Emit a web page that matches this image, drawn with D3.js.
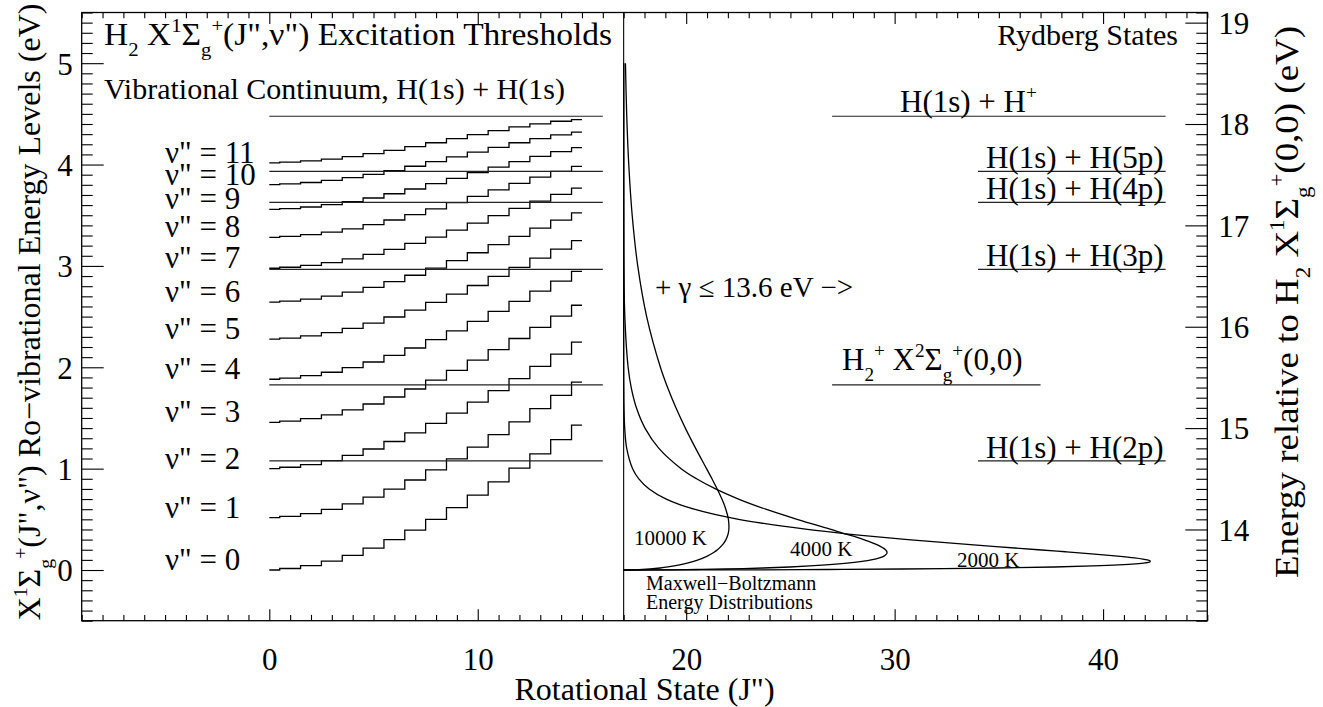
<!DOCTYPE html>
<html>
<head>
<meta charset="utf-8">
<script src="https://cdn.jsdelivr.net/npm/d3@7"></script>
<style>
  body { margin: 0; background: #fff; }
  svg { display: block; font-family: "Liberation Serif", "Times New Roman", Times, serif; }
  svg text { font-family: "Liberation Serif", "Times New Roman", Times, serif !important; fill: #000; }
</style>
</head>
<body>
<svg id="chart" width="1323" height="707"></svg>
<script>
// ---------------------------------------------------------------
// H2 X(J'',v'') ro-vibrational levels (eV above v=0, J=0), J'' = 0..15
// ---------------------------------------------------------------
const rotJ = [0, 1, 2, 3, 4, 5, 6, 7, 8, 9, 10, 11, 12, 13, 14, 15];
const vibV = [0, 1, 2, 3, 4, 5, 6, 7, 8, 9, 10, 11];

const levels_v0  = [0.000, 0.015, 0.044, 0.087, 0.145, 0.215, 0.299, 0.394, 0.499, 0.615, 0.738, 0.869, 1.005, 1.145, 1.287, 1.429];
const levels_v1  = [0.516, 0.530, 0.557, 0.598, 0.653, 0.720, 0.798, 0.888, 0.988, 1.096, 1.212, 1.335, 1.462, 1.592, 1.723, 1.853];
const levels_v2  = [1.001, 1.014, 1.040, 1.079, 1.131, 1.194, 1.268, 1.352, 1.446, 1.547, 1.656, 1.770, 1.888, 2.008, 2.129, 2.248];
const levels_v3  = [1.457, 1.469, 1.494, 1.530, 1.579, 1.638, 1.707, 1.786, 1.874, 1.969, 2.070, 2.175, 2.284, 2.394, 2.504, 2.612];
const levels_v4  = [1.882, 1.894, 1.917, 1.951, 1.996, 2.052, 2.117, 2.190, 2.272, 2.360, 2.453, 2.551, 2.650, 2.751, 2.850, 2.946];
const levels_v5  = [2.277, 2.288, 2.310, 2.342, 2.384, 2.436, 2.496, 2.564, 2.640, 2.721, 2.807, 2.896, 2.986, 3.077, 3.166, 3.250];
const levels_v6  = [2.642, 2.652, 2.673, 2.702, 2.741, 2.789, 2.845, 2.908, 2.978, 3.052, 3.130, 3.211, 3.292, 3.373, 3.451, 3.524];
const levels_v7  = [2.977, 2.987, 3.005, 3.033, 3.069, 3.113, 3.164, 3.222, 3.285, 3.353, 3.423, 3.496, 3.568, 3.639, 3.706, 3.768];
const levels_v8  = [3.282, 3.291, 3.308, 3.333, 3.366, 3.407, 3.453, 3.506, 3.563, 3.624, 3.687, 3.751, 3.814, 3.875, 3.932, 3.982];
const levels_v9  = [3.557, 3.565, 3.581, 3.604, 3.634, 3.670, 3.712, 3.759, 3.811, 3.864, 3.920, 3.975, 4.029, 4.081, 4.127, 4.166];
const levels_v10 = [3.802, 3.809, 3.823, 3.844, 3.871, 3.904, 3.941, 3.983, 4.028, 4.075, 4.123, 4.170, 4.215, 4.256, 4.292, 4.320];
const levels_v11 = [4.017, 4.023, 4.036, 4.054, 4.078, 4.107, 4.140, 4.177, 4.215, 4.256, 4.296, 4.335, 4.371, 4.402, 4.427, 4.443];
const rovibLevels = [levels_v0, levels_v1, levels_v2, levels_v3, levels_v4, levels_v5,
                     levels_v6, levels_v7, levels_v8, levels_v9, levels_v10, levels_v11];

// Dissociation / Rydberg / ionisation thresholds (eV above H2 X(0,0))
const thresholdKeys   = ["H2p", "ion", "H3p", "H4p", "H5p", "Hplus"];
const thresholdEnergy = [14.677, 15.426, 16.566, 17.227, 17.533, 18.076];
const thresholdJFrom  = [34, 27, 34, 34, 34, 27];
const thresholdJTo    = [43, 37, 43, 43, 43, 43];
// the same thresholds reduced by a 13.6 eV photon, drawn over J'' = 0..16
const reducedJFrom = 0, reducedJTo = 16;

// Maxwell-Boltzmann energy distributions (energy above 13.6 eV, width in J units)
const mbEnergy = [0, 0.002, 0.005, 0.01, 0.02, 0.03, 0.04, 0.05, 0.06, 0.07, 0.08, 0.09, 0.1,
                  0.12, 0.14, 0.16, 0.18, 0.2, 0.25, 0.3, 0.35, 0.4, 0.5, 0.6, 0.7, 0.8, 0.9, 1.0,
                  1.2, 1.4, 1.6, 1.8, 2.0, 2.5, 3.0, 3.5, 4.0, 4.5, 5.0];
const mb2000  = [0, 6.274, 9.750, 13.394, 17.874, 20.657, 22.508, 23.746, 24.546, 25.019, 25.238, 25.260, 25.126,
                 24.508, 23.571, 22.438, 21.192, 19.890, 16.638, 13.637, 11.020, 8.814, 5.516, 3.383, 2.045, 1.224, 0.727, 0.429,
                 0.147, 0.050, 0.017, 0.006, 0.002, 0, 0, 0, 0, 0, 0];
const mb4000  = [0, 2.231, 3.497, 4.875, 6.697, 7.967, 8.937, 9.706, 10.328, 10.837, 11.254, 11.595, 11.873,
                 12.273, 12.509, 12.619, 12.630, 12.562, 12.149, 11.511, 10.755, 9.945, 8.319, 6.818, 5.510, 4.407, 3.497, 2.758,
                 1.691, 1.023, 0.612, 0.363, 0.214, 0.056, 0.014, 0.004, 0.001, 0, 0];
const mb10000 = [0, 0.566, 0.892, 1.255, 1.754, 2.124, 2.424, 2.679, 2.900, 3.097, 3.272, 3.431, 3.575,
                 3.826, 4.038, 4.218, 4.371, 4.501, 4.749, 4.909, 5.004, 5.047, 5.025, 4.901, 4.714, 4.487, 4.238, 3.978,
                 3.455, 2.959, 2.508, 2.109, 1.763, 1.103, 0.676, 0.409, 0.245, 0.145, 0.086];
const mbSeries = [mb2000, mb4000, mb10000];
const dividerJ = 17;

// axis ticks
const xMajorTicks = [0, 10, 20, 30, 40];
const yMajorTicks = [0, 1, 2, 3, 4, 5];
const yRightMajorTicks = [14, 15, 16, 17, 18, 19];

// ---------------------------------------------------------------
const SERIF = "Liberation Serif, Times New Roman, Times, serif";
const svg = d3.select("#chart");
const frame = { left: 81.7, right: 1207.3, top: 12.5, bottom: 620.7 };

const x  = d3.scaleLinear().domain([-9, 45]).range([frame.left, frame.right]);
const y  = d3.scaleLinear().domain([-0.5, 5.5]).range([frame.bottom, frame.top]);
const yR = d3.scaleLinear().domain([13.1, 19.1]).range([frame.bottom, frame.top]);

const FS = 31;

function label(g, x0, y0, str, size, anchor) {
  return g.append("text")
    .attr("x", x0).attr("y", y0)
    .attr("font-family", SERIF)
    .attr("font-size", size)
    .attr("text-anchor", anchor || "start")
    .text(str);
}

// text with sub/superscripts: parts = [[string, mode], ...]
function richText(g, x0, y0, parts, size, anchor, length) {
  const t = g.append("text")
    .attr("x", x0).attr("y", y0)
    .attr("font-family", SERIF)
    .attr("font-size", size)
    .attr("text-anchor", anchor || "start");
  let shift = 0;
  parts.forEach(([s, m]) => {
    const target = m === "sub" ? 0.36 * size : (m === "sup" ? -0.42 * size : 0);
    const ts = t.append("tspan").text(s).attr("dy", target - shift);
    if (m) ts.attr("font-size", size * 0.62);
    shift = target;
  });
  if (length) t.attr("textLength", length).attr("lengthAdjust", "spacingAndGlyphs");
  return t;
}

// ---------------- axes ----------------
function styleAxis(g) {
  g.select(".domain").remove();
  g.selectAll("line").attr("stroke", "#000").attr("stroke-width", 1.1);
  g.selectAll("text").attr("font-family", SERIF).attr("font-size", FS).attr("fill", "#000");
}

const minorX = d3.range(-9, 46).filter(d => d % 10 !== 0);
const minorY = d3.range(-5, 56).map(d => d / 10).filter(d => Math.abs(d - Math.round(d)) > 1e-6);
const minorYR = d3.range(131, 192).map(d => d / 10).filter(d => Math.abs(d - Math.round(d)) > 1e-6);

// bottom
svg.append("g").attr("transform", `translate(0,${frame.bottom})`)
  .call(d3.axisBottom(x).tickValues(xMajorTicks).tickSize(-11.5).tickPadding(0).tickFormat(d3.format("d")))
  .call(styleAxis)
  .call(g => g.selectAll("text").attr("y", 49).attr("dy", 0));
svg.append("g").attr("transform", `translate(0,${frame.bottom})`)
  .call(d3.axisBottom(x).tickValues(minorX).tickSize(-5.8).tickFormat(""))
  .call(styleAxis);
// top
svg.append("g").attr("transform", `translate(0,${frame.top})`)
  .call(d3.axisTop(x).tickValues(xMajorTicks).tickSize(-11.5).tickFormat(""))
  .call(styleAxis);
svg.append("g").attr("transform", `translate(0,${frame.top})`)
  .call(d3.axisTop(x).tickValues(minorX).tickSize(-5.8).tickFormat(""))
  .call(styleAxis);
// left
svg.append("g").attr("transform", `translate(${frame.left},0)`)
  .call(d3.axisLeft(y).tickValues(yMajorTicks).tickSize(-22).tickPadding(9).tickFormat(d3.format("d")))
  .call(styleAxis)
  .call(g => g.selectAll("text").attr("dy", "0.35em"));
svg.append("g").attr("transform", `translate(${frame.left},0)`)
  .call(d3.axisLeft(y).tickValues(minorY).tickSize(-11).tickFormat(""))
  .call(styleAxis);
// right
svg.append("g").attr("transform", `translate(${frame.right},0)`)
  .call(d3.axisRight(yR).tickValues(yRightMajorTicks).tickSize(-22).tickPadding(11).tickFormat(d3.format("d")))
  .call(styleAxis)
  .call(g => g.selectAll("text").attr("dy", "0.35em"));
svg.append("g").attr("transform", `translate(${frame.right},0)`)
  .call(d3.axisRight(yR).tickValues(minorYR).tickSize(-11).tickFormat(""))
  .call(styleAxis);

// frame
svg.append("rect")
  .attr("x", frame.left).attr("y", frame.top)
  .attr("width", frame.right - frame.left).attr("height", frame.bottom - frame.top)
  .attr("fill", "none").attr("stroke", "#000").attr("stroke-width", 1.3);

// divider between the two panels
svg.append("line")
  .attr("x1", x(dividerJ)).attr("x2", x(dividerJ))
  .attr("y1", frame.top).attr("y2", frame.bottom)
  .attr("stroke", "#000").attr("stroke-width", 1.1);

// ---------------- left panel: ro-vibrational ladders ----------------
const step = d3.line().x((d, i) => x(rotJ[i])).y(d => y(d)).curve(d3.curveStep);
svg.append("g").selectAll("path").data(rovibLevels).join("path")
  .attr("d", step)
  .attr("fill", "none").attr("stroke", "#000").attr("stroke-width", 1.3);

// reduced thresholds across the left panel
svg.append("g").selectAll("line").data(thresholdEnergy).join("line")
  .attr("x1", x(reducedJFrom)).attr("x2", x(reducedJTo))
  .attr("y1", d => yR(d)).attr("y2", d => yR(d))
  .attr("stroke", "#222").attr("stroke-width", 1.1);

// v'' labels
svg.append("g").selectAll("text").data(vibV).join("text")
  .attr("x", x(-5)).attr("y", v => y(rovibLevels[v][0]))
  .attr("font-family", SERIF)
  .attr("font-size", 31)
  .text(v => `\u03bd" = ${v}`);

richText(svg, 104, 45, [["H"], ["2", "sub"], [" X"], ["1", "sup"], ["\u03a3"], ["g", "sub"], ["+", "sup"],
  ["(J\",\u03bd\") Excitation Thresholds"]], 31, "start", 508);
label(svg, 104, 99, "Vibrational Continuum, H(1s) + H(1s)", 30);

// ---------------- right panel: thresholds ----------------
svg.append("g").selectAll("line").data(thresholdEnergy).join("line")
  .attr("x1", (d, i) => x(thresholdJFrom[i])).attr("x2", (d, i) => x(thresholdJTo[i]))
  .attr("y1", d => yR(d)).attr("y2", d => yR(d))
  .attr("stroke", "#222").attr("stroke-width", 1.1);

label(svg, 1178, 45, "Rydberg States", 30, "end");

richText(svg, 900, yR(thresholdEnergy[5]) - 4, [["H(1s) + H"], ["+", "sup"]], 31);
label(svg, 986, yR(thresholdEnergy[4]) - 3, "H(1s) + H(5p)", 31);
label(svg, 986, yR(thresholdEnergy[3]) - 3, "H(1s) + H(4p)", 31);
label(svg, 986, yR(thresholdEnergy[2]) - 3, "H(1s) + H(3p)", 31);
label(svg, 986, yR(thresholdEnergy[0]) - 3, "H(1s) + H(2p)", 31);
richText(svg, 842, 370, [["H"], ["2", "sub"], ["+", "sup"], [" X"], ["2", "sup"], ["\u03a3"], ["g", "sub"], ["+", "sup"], ["(0,0)"]], 31);

label(svg, 655, 297, "+ \u03b3 \u2264 13.6 eV \u2212>", 29);

// ---------------- Maxwell-Boltzmann curves ----------------
const mbLine = d3.line()
  .x(d => x(dividerJ + d[1]))
  .y(d => y(d[0]))
  .curve(d3.curveCatmullRom.alpha(0.5));
svg.append("g").selectAll("path").data(mbSeries).join("path")
  .attr("d", s => mbLine(mbEnergy.map((e, i) => [e, s[i]])))
  .attr("fill", "none").attr("stroke", "#000").attr("stroke-width", 1.3);

const MBFS = 21;
label(svg, 634, 545, "10000 K", MBFS);
label(svg, 790, 556, "4000 K", MBFS);
label(svg, 957, 567, "2000 K", MBFS);
label(svg, 646, 590, "Maxwell\u2212Boltzmann", 20);
label(svg, 646, 609, "Energy Distributions", 20);

// ---------------- axis titles ----------------
label(svg, (frame.left + frame.right) / 2, 700, "Rotational State (J\")", 32, "middle");

const leftTitle = svg.append("g").attr("transform", "translate(40,312) rotate(-90)");
richText(leftTitle, 0, 0, [["X"], ["1", "sup"], ["\u03a3"], ["g", "sub"], ["+", "sup"],
  ["(J\",\u03bd\") Ro\u2212vibrational Energy Levels (eV)"]], 32, "middle");

const rightTitle = svg.append("g").attr("transform", "translate(1298,302) rotate(-90)");
richText(rightTitle, 0, 0, [["Energy relative to H"], ["2", "sub"], [" X"], ["1", "sup"], ["\u03a3"], ["g", "sub"], ["+", "sup"],
  ["(0,0) (eV)"]], 33, "middle", 552);
</script>
</body>
</html>
